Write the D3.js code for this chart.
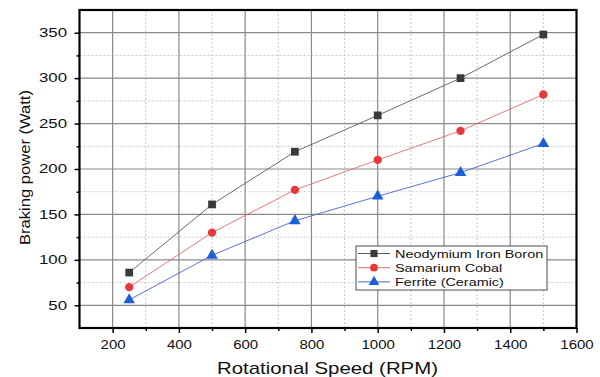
<!DOCTYPE html>
<html>
<head>
<meta charset="utf-8">
<script src="https://cdn.jsdelivr.net/npm/d3@7"></script>
<style>
  body { margin: 0; background: #fff; }
  text { font-family: "Liberation Sans", Arial, sans-serif; fill: #111; }
</style>
</head>
<body>
<svg id="chart" width="600" height="377"></svg>
<script>
// Data
const speeds = [250, 500, 750, 1000, 1250, 1500];
const neodymium = [86, 161, 219, 259, 300, 348];
const samarium = [70, 130, 177, 210, 242, 282];
const ferrite = [56, 105, 143, 170, 196, 228];
const xTicks = [200, 400, 600, 800, 1000, 1200, 1400, 1600];
const yTicks = [50, 100, 150, 200, 250, 300, 350];

const series = [
  { name: 'Neodymium Iron Boron', values: neodymium, line: '#5a5a5a', fill: '#3a3a3a', shape: d3.symbolSquare, size: 60 },
  { name: 'Samarium Cobal', values: samarium, line: '#e06a6a', fill: '#e8383b', shape: d3.symbolCircle, size: 55 },
  { name: 'Ferrite (Ceramic)', values: ferrite, line: '#4a62cc', fill: '#1c5fd8', shape: d3.symbolTriangle, size: 58 },
];

const svg = d3.select('#chart');
const plotLeft = 79.5, plotRight = 576.5, plotTop = 10, plotBottom = 328;

const x = d3.scaleLinear().domain([100, 1600]).range([plotLeft, plotRight]);
const y = d3.scaleLinear().domain([25, 375]).range([plotBottom, plotTop]);

// the reference text is wider than Liberation Sans, so stretch it horizontally
function stretch(sel, k) {
  sel.each(function () {
    const w = this.getComputedTextLength();
    this.setAttribute('textLength', w * k);
    this.setAttribute('lengthAdjust', 'spacingAndGlyphs');
  });
}

// minor gridlines (dashed)
const xMinor = d3.range(300, 1600, 200);
const yMinor = d3.range(75, 375, 50);
const grid = svg.append('g');
grid.selectAll('.xm').data(xMinor).enter().append('line')
  .attr('x1', d => x(d)).attr('x2', d => x(d)).attr('y1', plotTop).attr('y2', plotBottom)
  .attr('stroke', '#c8c8c8').attr('stroke-width', 1).attr('stroke-dasharray', '2,2');
grid.selectAll('.ym').data(yMinor).enter().append('line')
  .attr('x1', plotLeft).attr('x2', plotRight).attr('y1', d => y(d)).attr('y2', d => y(d))
  .attr('stroke', '#c8c8c8').attr('stroke-width', 1).attr('stroke-dasharray', '2,2');
// major gridlines
grid.selectAll('.xM').data(xTicks.filter(d => d < 1600)).enter().append('line')
  .attr('x1', d => x(d)).attr('x2', d => x(d)).attr('y1', plotTop).attr('y2', plotBottom)
  .attr('stroke', '#8a8a8a').attr('stroke-width', 1.2);
grid.selectAll('.yM').data(yTicks).enter().append('line')
  .attr('x1', plotLeft).attr('x2', plotRight).attr('y1', d => y(d)).attr('y2', d => y(d))
  .attr('stroke', '#8a8a8a').attr('stroke-width', 1.2);

// axes
const xAxis = svg.append('g').attr('transform', `translate(0,${plotBottom})`)
  .call(d3.axisBottom(x).tickValues(xTicks).tickSize(5).tickPadding(7).tickFormat(d3.format('d')));
const xAxisMinor = svg.append('g').attr('transform', `translate(0,${plotBottom})`)
  .call(d3.axisBottom(x).tickValues(xMinor).tickSize(3).tickFormat(''));
const yAxis = svg.append('g').attr('transform', `translate(${plotLeft},0)`)
  .call(d3.axisLeft(y).tickValues(yTicks).tickSize(5).tickPadding(7.5));
const yAxisMinor = svg.append('g').attr('transform', `translate(${plotLeft},0)`)
  .call(d3.axisLeft(y).tickValues(yMinor).tickSize(3).tickFormat(''));
[xAxis, xAxisMinor, yAxis, yAxisMinor].forEach(a => {
  a.select('.domain').remove();
  a.selectAll('.tick line').attr('stroke', '#000').attr('stroke-width', 1.5);
  a.selectAll('text').style('font-family', '"Liberation Sans", Arial, sans-serif')
    .style('font-size', '12px').attr('fill', '#111');
});
stretch(xAxis.selectAll('text'), 1.25);
stretch(yAxis.selectAll('text'), 1.4);

// frame
svg.append('rect').attr('x', plotLeft).attr('y', plotTop)
  .attr('width', plotRight - plotLeft).attr('height', plotBottom - plotTop)
  .attr('fill', 'none').attr('stroke', '#000').attr('stroke-width', 2.2);

// series
const line = d3.line().x((d, i) => x(speeds[i])).y(d => y(d));
series.forEach(s => {
  svg.append('path').datum(s.values).attr('d', line)
    .attr('fill', 'none').attr('stroke', s.line).attr('stroke-width', 0.9);
  svg.selectAll(null).data(s.values).enter().append('path')
    .attr('d', d3.symbol().type(s.shape).size(s.size))
    .attr('transform', (d, i) => `translate(${x(speeds[i])},${y(d)})`)
    .attr('fill', s.fill);
});

// legend
const lg = svg.append('g').attr('transform', 'translate(356,246)');
lg.append('rect').attr('width', 191).attr('height', 44)
  .attr('fill', '#fff').attr('stroke', '#222').attr('stroke-width', 0.8);
series.forEach((s, i) => {
  const yy = 7.5 + i * 14.2;
  lg.append('line').attr('x1', 2).attr('x2', 34).attr('y1', yy).attr('y2', yy)
    .attr('stroke', s.line).attr('stroke-width', 1);
  lg.append('path').attr('d', d3.symbol().type(s.shape).size(s.size * 0.85))
    .attr('transform', `translate(18,${yy})`).attr('fill', s.fill);
  const t = lg.append('text').attr('x', 39).attr('y', yy + 4)
    .style('font-size', '11px').text(s.name);
  stretch(t, 1.31);
});

// axis titles
const xTitle = svg.append('text').attr('x', 327.5).attr('y', 374).attr('text-anchor', 'middle')
  .style('font-size', '17px').text('Rotational Speed (RPM)');
stretch(xTitle, 221 / xTitle.node().getComputedTextLength());
const yTitle = svg.append('text').attr('transform', 'translate(30,167.5) rotate(-90)')
  .attr('text-anchor', 'middle').style('font-size', '15px').text('Braking power (Watt)');
stretch(yTitle, 155 / yTitle.node().getComputedTextLength());
</script>
</body>
</html>
